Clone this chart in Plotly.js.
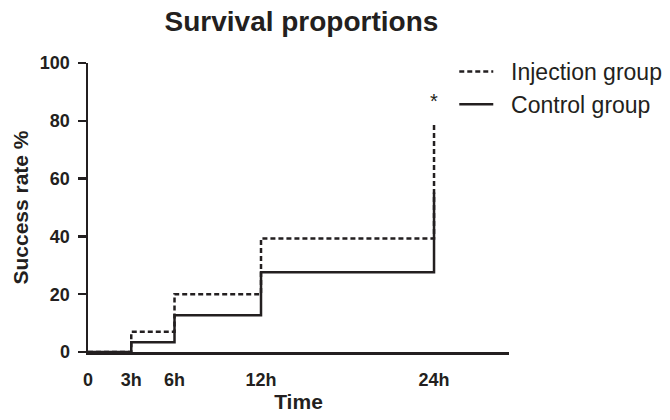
<!DOCTYPE html>
<html>
<head>
<meta charset="utf-8">
<script src="https://cdn.plot.ly/plotly-3.0.1.min.js"></script>
<style>html,body{margin:0;padding:0;background:#fff;}#chart{width:670px;height:420px;}</style>
</head>
<body>
<div id="chart"></div>
<script>
// Data
const timeHours = [0, 3, 6, 12, 24];
const tickLabels = ['0', '3h', '6h', '12h', '24h'];
const injectionGroup = [0, 7, 20, 39.3, 79.3];
const controlGroup = [0, 3.4, 12.7, 27.6, 55.2];
const seriesNames = ['Injection group', 'Control group'];

const ink = '#231f20';
const font = 'Liberation Sans, Arial, sans-serif';
const pad = '&nbsp;&nbsp;';

const traces = [
  {
    x: timeHours, y: injectionGroup, name: pad + seriesNames[0],
    type: 'scatter', mode: 'lines', line: {shape: 'hv', color: ink, width: 2.5, dash: '5px,3px'},
    legendgroup: 'a'
  },
  {
    x: timeHours, y: controlGroup, name: pad + seriesNames[1],
    type: 'scatter', mode: 'lines', line: {shape: 'hv', color: ink, width: 2.5},
    legendgroup: 'b'
  }
];

const layout = {
  width: 670, height: 420,
  margin: {l: 88, r: 161, t: 63, b: 68, autoexpand: false},
  paper_bgcolor: '#fff', plot_bgcolor: '#fff',
  font: {family: font, color: ink},
  title: {
    text: '<b>Survival proportions</b>',
    font: {size: 28, family: font, color: ink},
    xref: 'paper', x: 0.507, xanchor: 'center',
    yref: 'container', y: 0.95, yanchor: 'middle'
  },
  xaxis: {
    range: [0, 29.2],
    tickvals: timeHours, ticktext: tickLabels.map(t => '<b>' + t + '</b>'),
    ticks: '', showgrid: false, zeroline: false,
    showline: true, linecolor: ink, linewidth: 2.5,
    ticklabelstandoff: 10,
    tickfont: {size: 18, family: font, color: ink},
    title: {text: '<b>Time</b>', font: {size: 21, family: font, color: ink}, standoff: 2}
  },
  yaxis: {
    range: [0, 100],
    tickvals: [0, 20, 40, 60, 80, 100],
    ticktext: ['0', '20', '40', '60', '80', '100'].map(t => '<b>' + t + '</b>'),
    ticks: 'outside', ticklen: 8, tickwidth: 2.5, tickcolor: ink,
    showgrid: false, zeroline: false,
    showline: true, linecolor: ink, linewidth: 2.5,
    ticklabelstandoff: 4,
    tickfont: {size: 18, family: font, color: ink},
    title: {text: '<b>Success rate %</b>', font: {size: 21, family: font, color: ink}, standoff: 6}
  },
  legend: {
    x: 0.87, xanchor: 'left', y: 1.045, yanchor: 'top',
    font: {size: 23, family: font, color: ink},
    itemwidth: 34, traceorder: 'grouped', tracegroupgap: 0,
    bgcolor: 'rgba(0,0,0,0)', borderwidth: 0
  },
  annotations: [
    {x: timeHours[4], y: 87, xref: 'x', yref: 'y', text: '*', showarrow: false,
     font: {size: 20, family: font, color: ink}, xanchor: 'center', yanchor: 'middle'}
  ],
  showlegend: true
};

Plotly.newPlot('chart', traces, layout, {displayModeBar: false, staticPlot: true});
</script>
</body>
</html>
